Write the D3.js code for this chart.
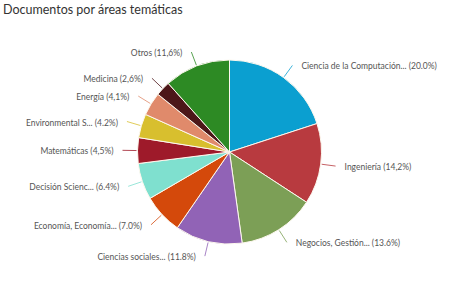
<!DOCTYPE html>
<html>
<head>
<meta charset="utf-8">
<script src="https://cdn.jsdelivr.net/npm/d3@7"></script>
<style>
  body { margin: 0; background: #fff; }
  text { font-family: Lato, "Open Sans", sans-serif; }
</style>
</head>
<body>
<script>
// areas tematicas, clockwise from the top
var categories = ["Ciencia de la Computación...", "Ingeniería", "Negocios, Gestión...", "Ciencias sociales...",
                  "Economía, Economía...", "Decisión Scienc...", "Matemáticas", "Environmental S...",
                  "Energía", "Medicina", "Otros"];
var values = [20.0, 14.2, 13.6, 11.8, 7.0, 6.4, 4.5, 4.2, 4.1, 2.6, 11.6];
var valueLabels = ["20.0%", "14,2%", "13.6%", "11.8%", "7.0%", "6.4%", "4,5%", "4.2%", "4,1%", "2,6%", "11,6%"];
var colors = ["#0b9fd0", "#b83a3f", "#7c9f56", "#9163b6", "#d4490b", "#7fe0cf",
              "#9e1a2a", "#d8bf2e", "#e08a6b", "#4c1719", "#2d8a24"];

var width = 468, height = 308,
    cx = 229.5, cy = 152, r = 92;

var svg = d3.select("body").append("svg")
    .attr("width", width)
    .attr("height", height);

//title
svg.append("text")
    .attr("x", 3)
    .attr("y", 14)
    .style("font-size", "12.5px")
    .attr("fill", "#333")
    .text("Documentos por áreas temáticas");

var data = categories.map(function(c, i){
    return {name: c, value: values[i], label: valueLabels[i], color: colors[i]};
});

var pie = d3.pie()
    .sort(null)
    .value(function(d){ return d.value; });

var arc = d3.arc().innerRadius(0).outerRadius(r);

var g = svg.append("g")
    .attr("transform", "translate(" + cx + "," + cy + ")");

var arcs = pie(data);

g.selectAll(".slice")
    .data(arcs)
    .enter().append("path")
    .attr("class", "slice")
    .attr("d", arc)
    .attr("fill", function(d){ return d.data.color; })
    .attr("stroke", "#fdf8ee")
    .attr("stroke-width", 1);

function pt(a, rad){
    return [Math.sin(a) * rad, -Math.cos(a) * rad];
}

// connector lines
g.selectAll(".conn")
    .data(arcs)
    .enter().append("line")
    .attr("class", "conn")
    .attr("x1", function(d){ return pt((d.startAngle + d.endAngle) / 2, r + 1)[0]; })
    .attr("y1", function(d){ return pt((d.startAngle + d.endAngle) / 2, r + 1)[1]; })
    .attr("x2", function(d){ return pt((d.startAngle + d.endAngle) / 2, r + 15)[0]; })
    .attr("y2", function(d){ return pt((d.startAngle + d.endAngle) / 2, r + 15)[1]; })
    .attr("stroke", function(d){ return d.data.color; })
    .attr("stroke-width", 0.8);

// labels
g.selectAll(".lbl")
    .data(arcs)
    .enter().append("text")
    .attr("class", "lbl")
    .attr("x", function(d){
        var a = (d.startAngle + d.endAngle) / 2;
        var p = pt(a, r + 15);
        return a < Math.PI ? p[0] + 9 : p[0] - 9;
    })
    .attr("y", function(d){
        var a = (d.startAngle + d.endAngle) / 2;
        return pt(a, r + 15)[1] + 4;
    })
    .attr("text-anchor", function(d){
        return (d.startAngle + d.endAngle) / 2 < Math.PI ? "start" : "end";
    })
    .style("font-size", "8.5px")
    .attr("fill", "#555")
    .text(function(d){ return d.data.name + " (" + d.data.label + ")"; });
</script>
</body>
</html>
